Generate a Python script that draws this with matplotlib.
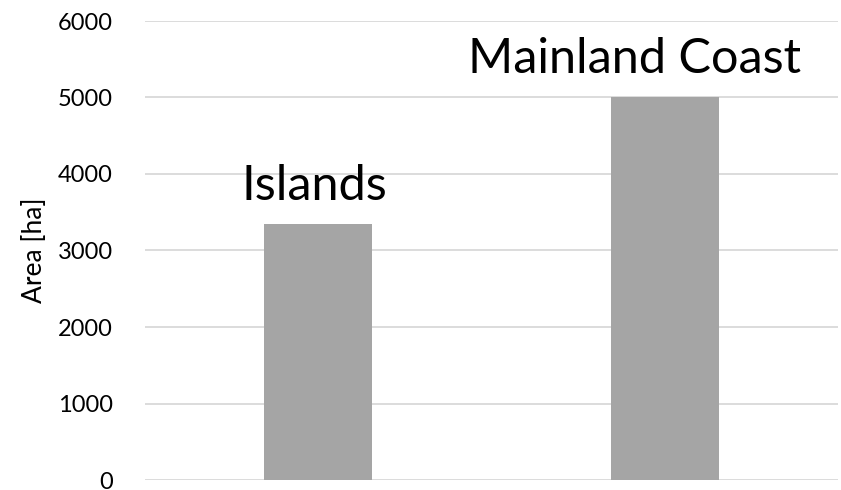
import matplotlib.pyplot as plt
import numpy as np

# bar data
regions = ['Islands', 'Mainland Coast']
area_ha = [3340, 5000]
yticks = [0, 1000, 2000, 3000, 4000, 5000, 6000]

plt.rcParams['font.family'] = ['Lato', 'DejaVu Sans']

fig = plt.figure(figsize=(8.41, 4.9), dpi=100)
ax = fig.add_axes([145 / 841, 10 / 490, 693 / 841, 459 / 490])

x = np.arange(len(regions))
bars = ax.bar(x, area_ha, width=0.313, color='#a5a5a5', zorder=3)

# big category names sitting on top of each bar
# (the long one is nudged left so it stays inside the figure)
nudge = [-3, -22]
for xi, val, name, dx in zip(x, area_ha, regions, nudge):
    ax.annotate(name, (xi, val), xytext=(dx, 17.5), textcoords='offset points',
                ha='center', va='baseline', fontsize=35, color='black')

ax.set_xlim(-0.5, 1.5)
ax.set_ylim(0, 6000)
ax.set_yticks(yticks)
ax.set_xticks([])
ax.tick_params(axis='y', length=0, pad=23, labelsize=17)
ax.yaxis.grid(True, color='#d9d9d9', linewidth=1.3, zorder=0)
for s in ax.spines.values():
    s.set_visible(False)
ax.set_ylabel('Area [ha]', fontsize=19, labelpad=8)

fig.savefig('out.png', dpi=100)
